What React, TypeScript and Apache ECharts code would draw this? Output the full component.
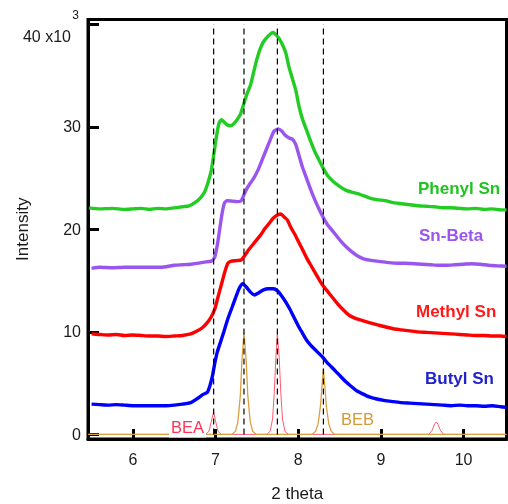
import React, { useEffect, useRef } from 'react';
import * as echarts from 'echarts';

// ---- data (x = 2 theta, y = intensity in thousands) ----
const phenylSn: number[][] = [
  [5.47, 22.1], [5.6, 22.0], [5.75, 22.05], [5.9, 21.95], [6.0, 22.0], [6.1, 22.05], [6.2, 21.95],
  [6.3, 22.05], [6.4, 22.0], [6.5, 22.1], [6.6, 22.2], [6.68, 22.3], [6.75, 22.6], [6.82, 23.1],
  [6.87, 23.7], [6.91, 24.6], [6.95, 25.8], [6.98, 27.4], [7.01, 29.0], [7.04, 30.3], [7.07, 30.7],
  [7.1, 30.5], [7.14, 30.2], [7.18, 30.1], [7.22, 30.3], [7.26, 30.7], [7.3, 31.2], [7.34, 32.2],
  [7.38, 33.2], [7.42, 34.0], [7.46, 35.3], [7.5, 36.6], [7.54, 37.6], [7.58, 38.3], [7.63, 38.8],
  [7.67, 39.1], [7.7, 39.2], [7.73, 39.0], [7.77, 38.6], [7.81, 38.0], [7.85, 37.2], [7.89, 35.8],
  [7.93, 34.7], [7.97, 33.6], [8.01, 32.0], [8.05, 30.8], [8.1, 29.7], [8.15, 28.6], [8.2, 27.6],
  [8.25, 26.8], [8.3, 26.0], [8.36, 25.2], [8.42, 24.7], [8.5, 24.2], [8.58, 23.8], [8.66, 23.6],
  [8.75, 23.4], [8.85, 23.1], [8.95, 22.9], [9.05, 22.8], [9.15, 22.6], [9.25, 22.5], [9.35, 22.4],
  [9.45, 22.3], [9.55, 22.25], [9.65, 22.2], [9.75, 22.1], [9.85, 22.1], [9.95, 22.05], [10.05, 22.0],
  [10.15, 22.05], [10.25, 21.95], [10.35, 22.0], [10.45, 21.9], [10.52, 21.9],
];

const snBeta: number[][] = [
  [5.5, 16.2], [5.6, 16.3], [5.75, 16.25], [5.9, 16.3], [6.0, 16.3], [6.15, 16.3], [6.3, 16.3],
  [6.4, 16.35], [6.5, 16.5], [6.6, 16.55], [6.7, 16.6], [6.8, 16.7], [6.86, 16.8], [6.95, 16.9],
  [6.99, 17.3], [7.02, 18.4], [7.05, 20.0], [7.08, 21.6], [7.11, 22.6], [7.14, 22.8], [7.2, 22.75],
  [7.26, 22.7], [7.31, 22.8], [7.34, 23.3], [7.38, 24.0], [7.42, 24.5], [7.47, 25.1], [7.52, 25.9],
  [7.57, 26.9], [7.62, 27.9], [7.67, 28.9], [7.71, 29.6], [7.76, 29.8], [7.8, 29.6], [7.84, 29.2],
  [7.89, 28.9], [7.93, 28.8], [7.97, 28.3], [8.01, 27.2], [8.05, 26.1], [8.1, 25.0], [8.15, 23.9],
  [8.2, 22.9], [8.25, 22.0], [8.3, 21.2], [8.35, 20.5], [8.4, 20.0], [8.46, 19.4], [8.52, 18.8],
  [8.58, 18.3], [8.65, 17.8], [8.72, 17.4], [8.8, 17.1], [8.9, 16.95], [9.0, 16.85], [9.1, 16.75],
  [9.2, 16.7], [9.3, 16.7], [9.4, 16.65], [9.5, 16.6], [9.6, 16.55], [9.7, 16.5], [9.8, 16.5],
  [9.9, 16.55], [10.0, 16.6], [10.1, 16.65], [10.2, 16.6], [10.3, 16.5], [10.4, 16.45], [10.52, 16.4],
];

const methylSn: number[][] = [
  [5.5, 9.8], [5.6, 9.75], [5.7, 9.7], [5.8, 9.75], [5.9, 9.65], [6.0, 9.7], [6.1, 9.65], [6.2, 9.6],
  [6.3, 9.6], [6.4, 9.55], [6.5, 9.6], [6.6, 9.65], [6.7, 9.8], [6.77, 10.05], [6.84, 10.4],
  [6.9, 10.9], [6.95, 11.5], [6.99, 12.2], [7.03, 13.4], [7.07, 14.6], [7.11, 15.8], [7.15, 16.7],
  [7.19, 16.9], [7.25, 16.95], [7.31, 17.0], [7.35, 17.4], [7.4, 18.0], [7.45, 18.5], [7.5, 19.0],
  [7.55, 19.5], [7.6, 20.1], [7.65, 20.6], [7.7, 21.1], [7.75, 21.4], [7.79, 21.5], [7.83, 21.2],
  [7.87, 20.9], [7.91, 20.2], [7.96, 19.5], [8.01, 18.7], [8.06, 17.9], [8.11, 17.1], [8.16, 16.4],
  [8.21, 15.7], [8.26, 15.0], [8.31, 14.4], [8.36, 13.9], [8.42, 13.3], [8.48, 12.7], [8.55, 12.1],
  [8.62, 11.6], [8.7, 11.3], [8.78, 11.1], [8.86, 10.9], [8.95, 10.7], [9.05, 10.5], [9.15, 10.3],
  [9.25, 10.2], [9.35, 10.1], [9.45, 10.0], [9.55, 9.95], [9.65, 9.9], [9.75, 9.85], [9.85, 9.8],
  [9.95, 9.75], [10.05, 9.7], [10.15, 9.65], [10.25, 9.65], [10.35, 9.6], [10.45, 9.6], [10.52, 9.55],
];

const butylSn: number[][] = [
  [5.5, 2.95], [5.6, 2.9], [5.7, 2.85], [5.8, 2.9], [5.9, 2.85], [6.0, 2.8], [6.1, 2.8], [6.2, 2.8],
  [6.3, 2.8], [6.4, 2.8], [6.5, 2.85], [6.6, 2.95], [6.7, 3.1], [6.78, 3.5], [6.85, 3.9], [6.9, 4.1],
  [6.93, 4.7], [6.96, 5.6], [6.99, 6.9], [7.02, 8.0], [7.06, 9.0], [7.1, 10.0], [7.15, 11.3],
  [7.2, 12.4], [7.25, 13.5], [7.29, 14.3], [7.33, 14.7], [7.37, 14.4], [7.42, 13.9], [7.47, 13.6],
  [7.52, 13.8], [7.58, 14.1], [7.64, 14.2], [7.7, 14.2], [7.75, 14.0], [7.8, 13.5], [7.85, 12.9],
  [7.9, 12.2], [7.95, 11.4], [8.0, 10.6], [8.05, 9.9], [8.1, 9.2], [8.15, 8.7], [8.2, 8.3],
  [8.25, 7.9], [8.3, 7.5], [8.35, 7.0], [8.4, 6.6], [8.46, 6.1], [8.52, 5.6], [8.58, 5.1],
  [8.64, 4.7], [8.7, 4.3], [8.78, 3.95], [8.86, 3.65], [8.95, 3.45], [9.05, 3.3], [9.15, 3.2],
  [9.25, 3.1], [9.35, 3.05], [9.45, 3.0], [9.55, 2.95], [9.65, 2.9], [9.75, 2.85], [9.85, 2.8],
  [9.95, 2.85], [10.05, 2.8], [10.15, 2.8], [10.25, 2.75], [10.35, 2.8], [10.45, 2.7], [10.52, 2.65],
];

const beaPattern: number[][] = [
  [5.46, 0], [6.88, 0], [6.92, 0.3], [6.95, 1.3], [6.977, 2.2], [7.0, 1.3], [7.03, 0.3], [7.07, 0],
  [7.62, 0], [7.66, 0.3], [7.69, 1.5], [7.71, 4.0], [7.73, 7.5], [7.748, 9.9], [7.77, 7.5],
  [7.79, 4.0], [7.81, 1.5], [7.84, 0.3], [7.88, 0], [9.58, 0], [9.62, 0.4], [9.65, 1.0],
  [9.67, 1.2], [9.69, 1.0], [9.72, 0.4], [9.76, 0], [10.52, 0],
];

const bebPattern: number[][] = [
  [5.46, 0], [7.2, 0], [7.24, 0.3], [7.27, 1.2], [7.3, 3.8], [7.32, 7.3], [7.344, 9.9], [7.37, 7.3],
  [7.39, 3.8], [7.42, 1.2], [7.45, 0.3], [7.49, 0], [8.17, 0], [8.21, 0.3], [8.24, 1.0],
  [8.27, 2.8], [8.29, 4.9], [8.305, 6.4], [8.32, 4.9], [8.34, 2.8], [8.37, 1.0], [8.4, 0.3],
  [8.44, 0], [10.52, 0],
];

const refLinesX: number[] = [6.977, 7.344, 7.748, 8.305];
const refLineSpan: number[] = [0, 40];

const seriesNames = ['Phenyl Sn', 'Sn-Beta', 'Methyl Sn', 'Butyl Sn'];
const patternNames = ['BEA', 'BEB'];

const FONT = '"Liberation Sans", Arial, Helvetica, sans-serif';
const TXT = '#1a1a1a';

export default function App() {
  const ref = useRef<HTMLDivElement>(null);

  useEffect(() => {
    if (!ref.current) return;
    const chart = echarts.init(ref.current, null, { renderer: 'svg' });

    const line = (name: string, data: number[][], color: string, width: number, z: number, smooth: number | boolean) => ({
      type: 'line',
      name,
      data,
      symbol: 'none',
      showSymbol: false,
      smooth,
      z,
      silent: true,
      lineStyle: { color, width },
      itemStyle: { color },
    });

    const dashed = refLinesX.map((x, i) => ({
      type: 'line',
      name: 'ref' + i,
      data: refLineSpan.map((y) => [x, y]),
      symbol: 'none',
      silent: true,
      z: 6,
      lineStyle: { color: '#000', width: 1.2, type: [6, 4] },
    }));

    const isInt = (v: number, step: number) => Math.abs(v / step - Math.round(v / step)) < 1e-6;

    chart.setOption({
      animation: false,
      textStyle: { fontFamily: FONT },
      grid: {
        left: 88,
        right: 1.5,
        top: 19.5,
        bottom: 65,
        show: true,
        borderColor: '#000',
        borderWidth: 3,
        backgroundColor: 'transparent',
        containLabel: false,
        outerBoundsMode: 'none',
      },
      xAxis: {
        type: 'value',
        min: 5.457,
        max: 10.52,
        splitNumber: 5,
        name: '2 theta',
        nameLocation: 'middle',
        nameGap: 46,
        nameMoveOverlap: false,
        nameTextStyle: { fontSize: 17, color: TXT, fontFamily: FONT },
        axisLine: { show: true, onZero: false, lineStyle: { color: '#000', width: 3 } },
        axisTick: { show: true, inside: true, length: 10, lineStyle: { color: '#000', width: 3 } },
        axisLabel: {
          margin: 12,
          fontSize: 16,
          color: TXT,
          fontFamily: FONT,
          formatter: (v: number) => (isInt(v, 1) ? String(Math.round(v)) : ''),
        },
        splitLine: { show: false },
      },
      yAxis: {
        type: 'value',
        min: -0.45,
        max: 40.47,
        splitNumber: 5,
        name: 'Intensity',
        nameLocation: 'middle',
        nameGap: 57,
        nameRotate: 90,
        nameMoveOverlap: false,
        nameTextStyle: { fontSize: 17, color: TXT, fontFamily: FONT },
        axisLine: { show: true, onZero: false, lineStyle: { color: '#000', width: 3 } },
        axisTick: { show: true, inside: true, length: 11, lineStyle: { color: '#000', width: 3 } },
        axisLabel: {
          margin: 7,
          fontSize: 16,
          color: TXT,
          fontFamily: FONT,
          formatter: (v: number) => {
            if (Math.abs(v - 40) < 1e-6) return '{sup|3}\n{a|40 x10}';
            return isInt(v, 10) ? String(Math.round(v)) : '';
          },
          rich: {
            sup: { fontSize: 12, lineHeight: 24, padding: [0, 2, 0, 0], color: TXT, fontFamily: FONT },
            a: { fontSize: 16, lineHeight: 19, padding: [0, 10, 0, 0], color: TXT, fontFamily: FONT },
          },
        },
        splitLine: { show: false },
      },
      series: [
        line(patternNames[0], beaPattern, '#ff5a6e', 1, 2, false),
        line(patternNames[1], bebPattern, '#d9a040', 1.3, 3, false),
        line(seriesNames[3], butylSn, '#0000ff', 3.4, 4, 0.2),
        line(seriesNames[2], methylSn, '#ff0000', 3.4, 4, 0.2),
        line(seriesNames[1], snBeta, '#9955ee', 3.4, 4, 0.2),
        line(seriesNames[0], phenylSn, '#22cc22', 3.4, 4, 0.2),
        ...dashed,
      ],
      graphic: [
        {
          type: 'text', x: 418, y: 188, z: 100,
          style: { text: seriesNames[0], fill: '#1fc41f', fontSize: 17, fontWeight: 'bold', fontFamily: FONT, verticalAlign: 'middle', align: 'left' },
        },
        {
          type: 'text', x: 419, y: 235, z: 100,
          style: { text: seriesNames[1], fill: '#9b55ee', fontSize: 17, fontWeight: 'bold', fontFamily: FONT, verticalAlign: 'middle', align: 'left' },
        },
        {
          type: 'text', x: 416, y: 311, z: 100,
          style: { text: seriesNames[2], fill: '#ff1a1a', fontSize: 17, fontWeight: 'bold', fontFamily: FONT, verticalAlign: 'middle', align: 'left' },
        },
        {
          type: 'text', x: 425, y: 378, z: 100,
          style: { text: seriesNames[3], fill: '#2222cc', fontSize: 17, fontWeight: 'bold', fontFamily: FONT, verticalAlign: 'middle', align: 'left' },
        },
        {
          type: 'text', x: 169, y: 427, z: 100,
          style: { text: patternNames[0], fill: '#ff3355', fontSize: 16.5, fontFamily: FONT, verticalAlign: 'middle', align: 'left', backgroundColor: '#fff', padding: [1, 2, 3, 2] },
        },
        {
          type: 'text', x: 341, y: 419, z: 100,
          style: { text: patternNames[1], fill: '#d49a35', fontSize: 16.5, fontFamily: FONT, verticalAlign: 'middle', align: 'left' },
        },
      ],
    });

    return () => chart.dispose();
  }, []);

  return <div ref={ref} style={{ position: 'fixed', left: 0, top: 0, width: 508, height: 504 }} />;
}
